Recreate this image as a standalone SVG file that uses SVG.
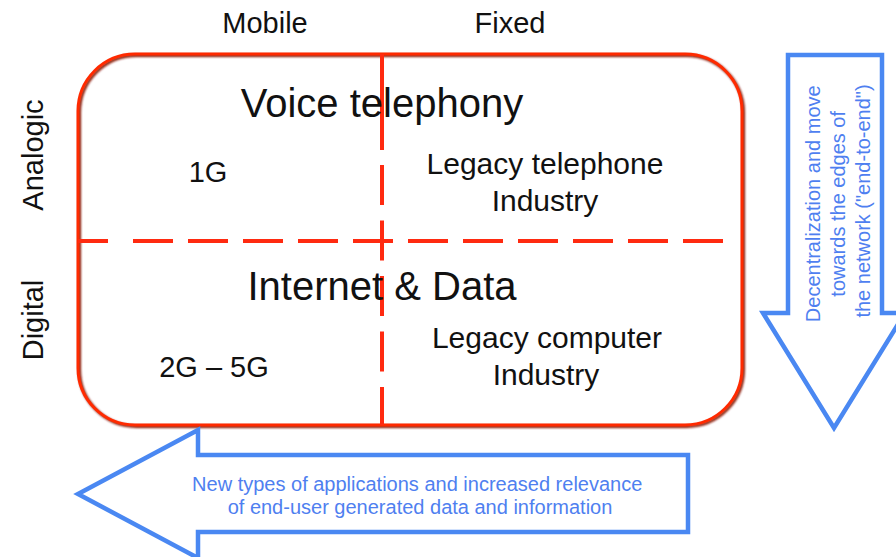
<svg xmlns="http://www.w3.org/2000/svg" width="896" height="557" viewBox="0 0 896 557">
  <defs>
    <style>
      .lbl { font-family: "Liberation Sans", Arial, sans-serif; fill: #111; }
      .sm { font-size: 29px; }
      .md { font-size: 30px; }
      .big { font-size: 40px; }
      .note { font-family: "Liberation Sans", Arial, sans-serif; font-size: 20px; fill: #4f7ff0; }
      .arrow { fill: #ffffff; stroke: #4a88f2; stroke-width: 4.5; stroke-linejoin: miter; }
      .grid { stroke: #ff2a10; stroke-width: 4; fill: none; }
    </style>
    <filter id="soft" x="-5%" y="-5%" width="110%" height="110%">
      <feGaussianBlur stdDeviation="0.8"/>
    </filter>
  </defs>

  <rect width="896" height="557" fill="#ffffff"/>

  <!-- axis labels -->
  <g id="col-mobile"><text class="lbl sm" x="265" y="33" text-anchor="middle">Mobile</text></g>
  <g id="col-fixed"><text class="lbl sm" x="510" y="33" text-anchor="middle">Fixed</text></g>
  <g id="row-analogic"><text class="lbl sm" transform="translate(43,155) rotate(-90)" text-anchor="middle">Analogic</text></g>
  <g id="row-digital"><text class="lbl sm" transform="translate(43,320) rotate(-90)" text-anchor="middle">Digital</text></g>

  <!-- main frame -->
  <g id="frame">
    <rect x="79.5" y="55.5" width="664" height="371" rx="57" ry="57" fill="none" stroke="#8a1800" stroke-width="3" filter="url(#soft)"/>
    <rect x="78" y="54" width="664" height="371" rx="57" ry="57" fill="none" stroke="#ff2a00" stroke-width="3"/>
  </g>

  <!-- quadrant dividers -->
  <g id="connectors">
    <line class="grid" x1="382" y1="54" x2="382" y2="150"/>
    <line class="grid" x1="382" y1="165" x2="382" y2="425" stroke-dasharray="40 15.5"/>
    <line class="grid" x1="78" y1="241" x2="108" y2="241"/>
    <line class="grid" x1="133" y1="241" x2="723" y2="241" stroke-dasharray="40 15"/>
  </g>

  <!-- quadrant texts -->
  <g id="voice"><text class="lbl big" x="382" y="117" text-anchor="middle">Voice telephony</text></g>
  <g id="q-1g"><text class="lbl sm" x="208" y="182" text-anchor="middle">1G</text></g>
  <g id="q-telephone">
    <text class="lbl md" x="545" y="174" text-anchor="middle">Legacy telephone</text>
    <text class="lbl md" x="545" y="211" text-anchor="middle">Industry</text>
  </g>
  <g id="internet"><text class="lbl big" x="382" y="300" text-anchor="middle">Internet &amp; Data</text></g>
  <g id="q-2g5g"><text class="lbl sm" x="214" y="377" text-anchor="middle">2G – 5G</text></g>
  <g id="q-computer">
    <text class="lbl md" x="547" y="348" text-anchor="middle">Legacy computer</text>
    <text class="lbl md" x="546" y="385" text-anchor="middle">Industry</text>
  </g>

  <!-- trend arrows -->
  <g id="arrow-down">
    <polygon class="arrow" points="788,55 882,55 882,313 905,313 834,428 763,313 788,313"/>
    <text class="note" transform="translate(820,201) rotate(-90)" text-anchor="middle">
      <tspan x="0" y="0">Decentralization and move</tspan>
      <tspan x="0" y="25">towards the edges of</tspan>
      <tspan x="0" y="50">the network ("end-to-end")</tspan>
    </text>
  </g>
  <g id="arrow-left">
    <polygon class="arrow" points="688,455 688,532 198,532 198,558 78,494 198,430 198,455"/>
    <text class="note" text-anchor="middle">
      <tspan x="420" y="491">New types of applications and increased relevance</tspan>
      <tspan x="420" y="514">of end-user generated data and information</tspan>
    </text>
  </g>
</svg>
